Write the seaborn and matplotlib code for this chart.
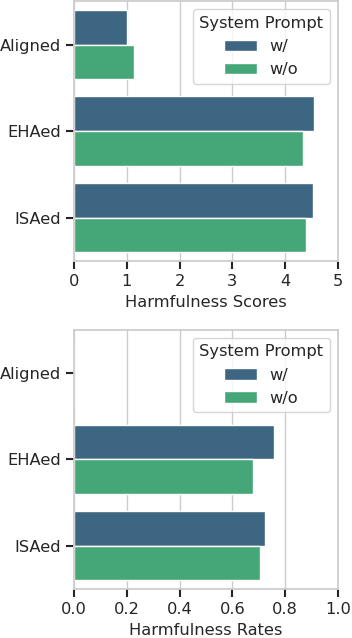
import numpy as np
import pandas as pd
import matplotlib
matplotlib.use("Agg")
import matplotlib.pyplot as plt
import seaborn as sns

models = ["Aligned", "EHAed", "ISAed"]
prompts = ["w/", "w/o"]
scores_with = [1.00, 4.54, 4.52]
scores_without = [1.13, 4.33, 4.40]
rates_with = [0.0, 0.757, 0.723]
rates_without = [0.0, 0.677, 0.704]
score_ticks = [0, 1, 2, 3, 4, 5]
rate_ticks = [0.0, 0.2, 0.4, 0.6, 0.8, 1.0]

df_scores = pd.DataFrame({
    "Model": models * 2,
    "System Prompt": [prompts[0]] * 3 + [prompts[1]] * 3,
    "Harmfulness Scores": scores_with + scores_without,
})
df_rates = pd.DataFrame({
    "Model": models * 2,
    "System Prompt": [prompts[0]] * 3 + [prompts[1]] * 3,
    "Harmfulness Rates": rates_with + rates_without,
})

sns.set_theme(style="whitegrid", rc={
    "axes.edgecolor": "#cccccc",
    "grid.color": "#cccccc",
    "xtick.bottom": True,
    "ytick.left": True,
    "xtick.color": "#262626",
    "ytick.color": "#262626",
    "xtick.major.size": 6,
    "ytick.major.size": 6,
    "xtick.major.width": 1.5,
    "ytick.major.width": 1.5,
})
plt.rcParams["font.family"] = ["DejaVu Sans"]

fig = plt.figure(figsize=(3.52, 6.38), dpi=100)
ax1 = fig.add_axes([0.210, 0.591, 0.750, 0.407])
ax2 = fig.add_axes([0.210, 0.077, 0.750, 0.406])

palette = sns.color_palette("viridis", 2)
fs = 11.7

for ax, df, col, ticks in [(ax1, df_scores, "Harmfulness Scores", score_ticks),
                           (ax2, df_rates, "Harmfulness Rates", rate_ticks)]:
    sns.barplot(data=df, y="Model", x=col, hue="System Prompt", palette=palette,
                orient="h", ax=ax, order=models, hue_order=prompts)
    ax.set_xlim(ticks[0], ticks[-1])
    ax.set_xticks(ticks)
    if ticks is rate_ticks:
        ax.set_xticklabels([f"{t:.1f}" for t in ticks])
    ax.set_ylabel("")
    ax.set_xlabel(col, fontsize=fs, color="#262626")
    ax.tick_params(axis="both", labelsize=fs)
    for s in ax.spines.values():
        s.set_linewidth(1.25)
    leg = ax.legend(title="System Prompt", loc="upper right", fontsize=fs,
                    title_fontsize=fs)
    leg.get_frame().set_edgecolor("#cccccc")

fig.savefig("out.png", dpi=100)
